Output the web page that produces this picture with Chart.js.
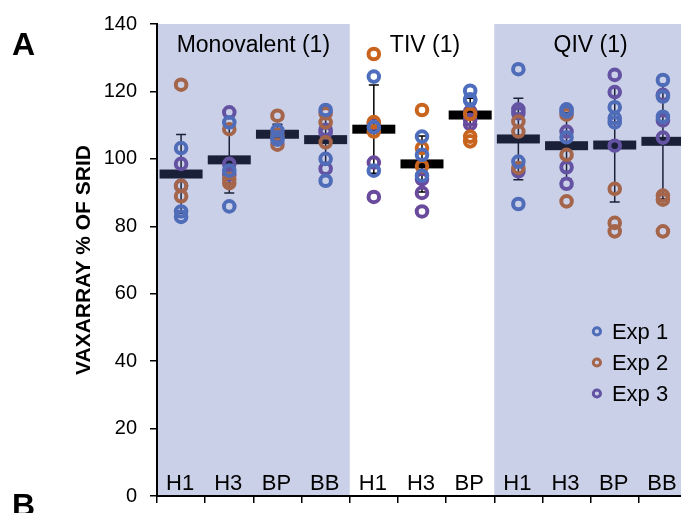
<!DOCTYPE html>
<html>
<head>
<meta charset="utf-8">
<script src="https://cdn.jsdelivr.net/npm/chart.js@4.4.1/dist/chart.umd.min.js"></script>
<style>
  html, body { margin: 0; padding: 0; background: #fff; overflow: hidden; }
  #wrap { width: 700px; height: 513px; }
</style>
</head>
<body>
<div id="wrap"><canvas id="c" width="700" height="513"></canvas></div>
<script>
// ---- data ----
const categories = ['H1', 'H3', 'BP', 'BB', 'H1', 'H3', 'BP', 'H1', 'H3', 'BP', 'BB'];
const groupNames = ['Monovalent (1)', 'TIV (1)', 'QIV (1)'];
const groupStart = [0, 4, 7];
const groupEnd = [3, 6, 10];
const shadedGroups = [0, 2];
const yTicks = [0, 20, 40, 60, 80, 100, 120, 140];
const seriesNames = ['Exp 1', 'Exp 2', 'Exp 3'];

const exp1 = [
  [103.2, 84.4, 82.8],
  [110.8, 96.5, 85.9],
  [108.4, 106.4, 105.7],
  [114.5, 100.0, 93.5],
  [124.4, 109.4, 96.5],
  [106.6, 101.2, 95.0],
  [120.2, 117.7, 117.3],
  [126.6, 99.2, 86.6],
  [114.7, 114.0, 106.4],
  [115.3, 112.1, 110.8],
  [123.4, 118.5, 112.5]
];
const exp2 = [
  [122.0, 92.0, 88.9],
  [108.8, 94.0, 92.8],
  [112.8, 107.1, 104.2],
  [113.5, 110.8, 104.9],
  [131.1, 110.9, 108.1],
  [114.5, 103.2, 97.8],
  [113.3, 106.6, 105.2],
  [111.1, 108.1, 97.3],
  [113.1, 101.2, 87.4],
  [91.1, 81.0, 78.5],
  [89.1, 87.9, 78.5]
];
const exp3 = [
  [98.5, 92.0],
  [113.8, 98.5, 95.3],
  [],
  [108.6, 107.8, 97.1],
  [110.6, 98.9, 88.7],
  [94.0, 89.9, 84.4],
  [114.0, 111.6, 110.3],
  [114.7, 113.5, 96.3],
  [108.1, 97.5, 92.6],
  [124.9, 119.8, 103.9],
  [119.0, 111.4, 106.3]
];
const meanVals = [95.5, 99.7, 107.3, 105.7, 108.8, 98.5, 113.0, 105.9, 103.9, 104.1, 105.2];
const sdVals   = [11.7, 9.8, 3.0, 7.2, 13.1, 8.3, 5.0, 12.1, 9.8, 16.9, 17.0];

// ---- styles ----
const FONT = "'Liberation Sans', Arial, sans-serif";
const colors = ['#4E6EBD', '#C8641E', '#6A4A9C'];
const shadeColor = 'rgba(84,102,176,0.31)';

function toPoints(arr) {
  const pts = [];
  arr.forEach((vals, i) => vals.forEach(v => pts.push({ x: i, y: v })));
  return pts;
}
const allSeries = [exp1, exp2, exp3];
const datasets = allSeries.map((s, k) => ({
  label: seriesNames[k],
  data: toPoints(s),
  borderColor: colors[k],
  backgroundColor: 'rgba(0,0,0,0)',
  pointBackgroundColor: 'rgba(0,0,0,0)',
  pointBorderColor: colors[k],
  pointRadius: 5.3,
  pointHoverRadius: 5.3,
  pointBorderWidth: 4,
  showLine: false
}));

// legend anchor (in axis units)
const LEG_X = 8.63, LEG_Y = 48.8, LEG_STEP = 9.2;

const summaryPlugin = {
  id: 'summary',
  beforeDatasetsDraw(chart) {
    const { ctx, scales: { x, y } } = chart;
    ctx.save();
    ctx.strokeStyle = '#000';
    ctx.lineWidth = 1.5;
    meanVals.forEach((m, i) => {
      const px = x.getPixelForValue(i);
      const top = y.getPixelForValue(m + sdVals[i]);
      const bot = y.getPixelForValue(m - sdVals[i]);
      ctx.beginPath();
      ctx.moveTo(px, top); ctx.lineTo(px, bot);
      ctx.moveTo(px - 5, top); ctx.lineTo(px + 5, top);
      ctx.moveTo(px - 5, bot); ctx.lineTo(px + 5, bot);
      ctx.stroke();
    });
    ctx.fillStyle = '#000';
    meanVals.forEach((m, i) => {
      const px = x.getPixelForValue(i);
      const py = y.getPixelForValue(m);
      ctx.fillRect(px - 21.5, py - 4.5, 43, 9);
    });
    ctx.restore();
  },
  afterDatasetsDraw(chart) {
    const { ctx, chartArea, scales: { x, y } } = chart;
    ctx.save();
    const lx = x.getPixelForValue(LEG_X);
    const ly0 = y.getPixelForValue(LEG_Y);
    const ldy = y.getPixelForValue(0) - y.getPixelForValue(LEG_STEP);
    seriesNames.forEach((n, k) => {
      ctx.beginPath();
      ctx.arc(lx, ly0 + k * ldy, 3.6, 0, Math.PI * 2);
      ctx.strokeStyle = colors[k];
      ctx.lineWidth = 3;
      ctx.stroke();
    });
    ctx.fillStyle = shadeColor;
    shadedGroups.forEach(g => {
      const x0 = Math.max(x.getPixelForValue(groupStart[g] - 0.5), chartArea.left + 1);
      const x1 = x.getPixelForValue(groupEnd[g] + 0.5);
      ctx.fillRect(x0, chartArea.top, x1 - x0, chartArea.bottom - chartArea.top - 1);
    });
    ctx.restore();
  },
  afterDraw(chart) {
    const { ctx, chartArea, scales: { x, y } } = chart;
    ctx.save();
    ctx.fillStyle = '#000';
    ctx.font = '23px ' + FONT;
    ctx.textAlign = 'center';
    ctx.textBaseline = 'alphabetic';
    groupNames.forEach((g, i) => {
      const cx = (x.getPixelForValue(groupStart[i]) + x.getPixelForValue(groupEnd[i])) / 2;
      ctx.fillText(g, cx + (i === 1 ? 3 : 0), chartArea.top + 28);
    });
    ctx.font = '22px ' + FONT;
    categories.forEach((c, i) => {
      ctx.fillText(c, x.getPixelForValue(i) - 1, chartArea.bottom - 6);
    });
    ctx.textAlign = 'left';
    ctx.textBaseline = 'middle';
    ctx.font = '22px ' + FONT;
    const lx = x.getPixelForValue(LEG_X);
    const ly0 = y.getPixelForValue(LEG_Y);
    const ldy = y.getPixelForValue(0) - y.getPixelForValue(LEG_STEP);
    seriesNames.forEach((n, k) => {
      ctx.fillText(n, lx + 15, ly0 + k * ldy + 1);
    });
    ctx.save();
    ctx.translate(84.5, (chartArea.top + chartArea.bottom) / 2);
    ctx.rotate(-Math.PI / 2);
    ctx.font = 'bold 21px ' + FONT;
    ctx.textAlign = 'center';
    ctx.textBaseline = 'middle';
    ctx.fillText('VAXARRAY % OF SRID', 0, 0);
    ctx.restore();
    ctx.font = 'bold 32px ' + FONT;
    ctx.textAlign = 'left';
    ctx.textBaseline = 'alphabetic';
    ctx.fillText('A', 12, 55);
    ctx.fillText('B', 12, 516);
    ctx.restore();
  }
};

new Chart(document.getElementById('c'), {
  type: 'scatter',
  data: { datasets },
  options: {
    responsive: false,
    animation: false,
    events: [],
    layout: { autoPadding: false, padding: { left: 0, right: 13, top: 24, bottom: 0 } },
    plugins: { legend: { display: false }, tooltip: { enabled: false } },
    scales: {
      x: {
        type: 'linear',
        min: -0.5,
        max: 10.5,
        afterBuildTicks: (s) => { s.ticks = categories.map((c, i) => ({ value: i - 0.5 })).concat([{ value: 10.5 }]); },
        afterFit: (s) => { s.height = 17; s.paddingLeft = 0; s.paddingRight = 0; },
        ticks: { display: false },
        grid: { drawOnChartArea: false, drawTicks: true, tickLength: 7, color: '#000', lineWidth: 1.5 },
        border: { display: true, color: '#000', width: 2 }
      },
      y: {
        min: 0,
        max: 140,
        afterBuildTicks: (s) => { s.ticks = yTicks.map(v => ({ value: v })); },
        afterFit: (s) => { s.width = 157; s.paddingTop = 0; s.paddingBottom = 0; },
        ticks: { color: '#000', font: { family: FONT, size: 20 }, padding: 13 },
        grid: { drawOnChartArea: false, drawTicks: true, tickLength: 7, color: '#000', lineWidth: 1.5 },
        border: { display: true, color: '#000', width: 2 }
      }
    }
  },
  plugins: [summaryPlugin]
});
</script>
</body>
</html>
